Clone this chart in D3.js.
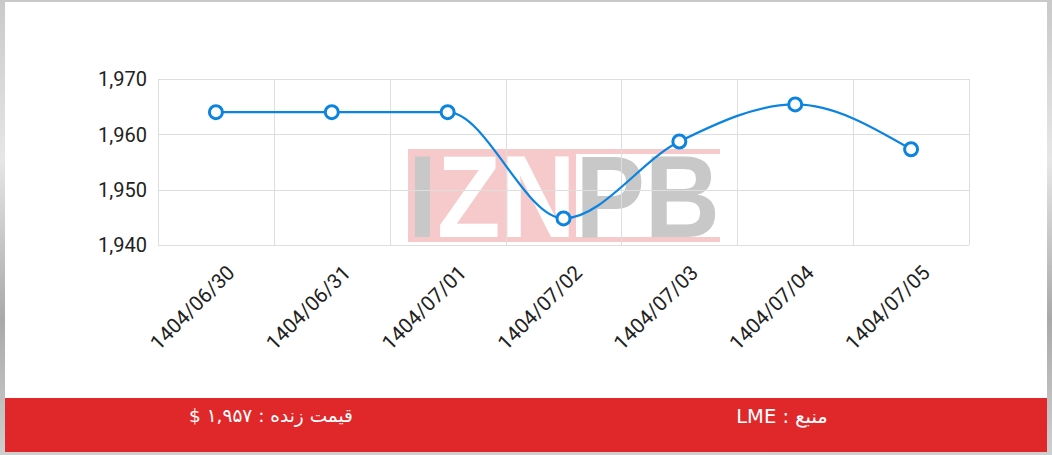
<!DOCTYPE html>
<html><head><meta charset="utf-8">
<script src="https://cdn.jsdelivr.net/npm/d3@7"></script>
<style>body{margin:0;background:#fff;}svg{display:block;}</style>
</head><body>
<svg id="c" width="1052" height="455"></svg>
<script>
const categories = ["1404/06/30","1404/06/31","1404/07/01","1404/07/02","1404/07/03","1404/07/04","1404/07/05"];
const prices = [1964, 1964, 1964, 1944.8, 1958.7, 1965.4, 1957.3];
const yTicks = [1940, 1950, 1960, 1970];
const footerLeft = "قیمت زنده : ۱,۹۵۷ $";
const footerRight = "منبع : LME";

const svg = d3.select("#c");
const W = 1052, H = 455;

// frame
const defs = svg.append("defs");
const g1 = defs.append("linearGradient").attr("id","side").attr("x1",0).attr("y1",0).attr("x2",0).attr("y2",1);
g1.append("stop").attr("offset","0").attr("stop-color","#c9c9c9");
g1.append("stop").attr("offset","0.35").attr("stop-color","#e6e6e6");
g1.append("stop").attr("offset","0.7").attr("stop-color","#a9a9a9");
g1.append("stop").attr("offset","1").attr("stop-color","#cfcfcf");
svg.append("rect").attr("width",W).attr("height",H).attr("fill","url(#side)");
svg.append("rect").attr("x",5).attr("y",2).attr("width",1042).attr("height",396).attr("fill","#fff");
svg.append("rect").attr("x",5).attr("y",398).attr("width",1042).attr("height",54).attr("fill","#e0282a");

const x = d3.scaleBand().domain(categories).range([158, 969]);
const y = d3.scaleLinear().domain([1940, 1970]).range([245, 79]);

// watermark
const wm = svg.append("g");
wm.append("rect").attr("x",408).attr("y",149).attr("width",312).attr("height",5).attr("fill","#f6caca");
wm.append("rect").attr("x",408).attr("y",237).attr("width",312).attr("height",5).attr("fill","#f6caca");
wm.append("rect").attr("x",408).attr("y",149).attr("width",168).attr("height",93).attr("fill","#f6caca");
const wg = wm.append("g");
const wt = wg.append("text").attr("x",0).attr("y",0)
  .attr("font-family","Liberation Sans, Arial, sans-serif").attr("font-weight","bold")
  .attr("font-size",116);
wt.append("tspan").attr("fill","#c8c8c8").text("I");
wt.append("tspan").attr("fill","#ffffff").text("ZN");
wt.append("tspan").attr("fill","#c8c8c8").text("PB");
const natW = wt.node().getComputedTextLength() || 348;
wg.attr("transform",`translate(408,237) scale(${312/natW},1)`);

// grid
const grid = svg.append("g").attr("stroke","#dedede").attr("stroke-width",1);
yTicks.forEach(t=>{
  grid.append("line").attr("x1",158).attr("x2",969).attr("y1",Math.round(y(t))+0.5).attr("y2",Math.round(y(t))+0.5);
});
const bounds = categories.map(c=>x(c)).concat([x.range()[1]]);
bounds.forEach(b=>{
  grid.append("line").attr("x1",Math.round(b)+0.5).attr("x2",Math.round(b)+0.5).attr("y1",79).attr("y2",245);
});

// y labels
const fmt = d3.format(",");
svg.append("g").selectAll("text").data(yTicks).join("text")
  .attr("x",147).attr("y",d=>y(d)).attr("dy","0.36em").attr("text-anchor","end")
  .attr("font-family","Roboto, sans-serif").attr("font-size",20).attr("fill","#222")
  .text(d=>fmt(d));

// x labels
svg.append("g").selectAll("text").data(categories).join("text")
  .attr("transform",d=>`translate(${x(d)+x.bandwidth()/2+20},274) rotate(-45)`)
  .attr("text-anchor","end")
  .attr("font-family","Roboto, sans-serif").attr("font-size",20.5).attr("fill","#222")
  .text(d=>d);

// line
const pts = categories.map((c,i)=>[x(c)+x.bandwidth()/2, y(prices[i])]);
svg.append("path").attr("d",d3.line().curve(d3.curveMonotoneX)(pts))
  .attr("fill","none").attr("stroke","#0a84e0").attr("stroke-width",2.2);
svg.append("g").selectAll("circle").data(pts).join("circle")
  .attr("cx",d=>d[0]).attr("cy",d=>d[1]).attr("r",6.5)
  .attr("fill","#fff").attr("stroke","#0a84e0").attr("stroke-width",3);

// footer
svg.append("text").attr("x",271).attr("y",416).attr("dy","0.35em").attr("text-anchor","middle")
  .attr("direction","rtl").attr("font-family","DejaVu Sans, sans-serif").attr("font-size",18.5).attr("fill","#fff")
  .text(footerLeft);
svg.append("text").attr("x",782).attr("y",416).attr("dy","0.35em").attr("text-anchor","middle")
  .attr("direction","rtl").attr("font-family","DejaVu Sans, sans-serif").attr("font-size",19.5).attr("fill","#fff")
  .text(footerRight);
</script>
</body></html>
